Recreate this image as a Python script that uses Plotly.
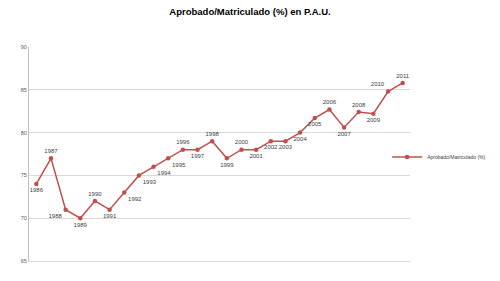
import plotly.graph_objects as go

years = [str(y) for y in range(1986, 2012)]
values = [74, 77, 71, 70, 72, 71, 73, 75, 76, 77, 78, 78, 79, 77, 78, 78, 79, 79, 80,
          81.7, 82.7, 80.6, 82.4, 82.2, 84.8, 85.8]
label_pos = ["bottom center", "top center", "bottom left", "bottom center", "top center",
             "bottom center", "bottom right", "bottom right", "bottom right", "bottom right",
             "top center", "bottom center", "top center", "bottom center", "top center",
             "bottom center", "bottom center", "bottom center", "bottom center", "bottom center",
             "top center", "bottom center", "top center", "bottom center", "top left",
             "top center"]
y_ticks = [65, 70, 75, 80, 85, 90]
series_name = "Aprobado/Matriculado (%)"
title = "Aprobado/Matriculado (%) en P.A.U."

fig = go.Figure()
fig.add_trace(go.Scatter(
    x=years, y=values, name=series_name,
    mode="lines+markers+text",
    line=dict(color="#C0504D", width=1.5),
    marker=dict(color="#C0504D", size=4.5),
    text=years, textposition=label_pos,
    textfont=dict(size=6, color="#404040", family="Liberation Sans"),
))

fig.update_layout(
    width=500, height=281,
    margin=dict(l=29, r=90, t=47, b=20, autoexpand=False),
    paper_bgcolor="white", plot_bgcolor="white",
    title=dict(text="<b>" + title + "</b>", x=0.5, xanchor="center", y=0.96, yanchor="middle",
               font=dict(size=9.5, color="#000000", family="Liberation Sans")),
    showlegend=True,
    legend=dict(x=0.94, y=0.486, xanchor="left", yanchor="middle",
                font=dict(size=5, color="#404040", family="Liberation Sans"),
                bgcolor="rgba(0,0,0,0)", itemwidth=30, tracegroupgap=0),
    font=dict(family="Liberation Sans"),
)
fig.update_xaxes(type="category", range=[-0.5, 25.5], showticklabels=False,
                 showgrid=False, showline=True, linecolor="#D9D9D9", linewidth=1,
                 zeroline=False, ticks="")
fig.update_yaxes(range=[65, 90], tickvals=y_ticks, showgrid=True, gridcolor="#D9D9D9",
                 gridwidth=1, showline=True, linecolor="#BFBFBF", linewidth=1,
                 zeroline=False, ticks="", tickfont=dict(size=5.5, color="#595959"))

fig.write_html("out.html")
